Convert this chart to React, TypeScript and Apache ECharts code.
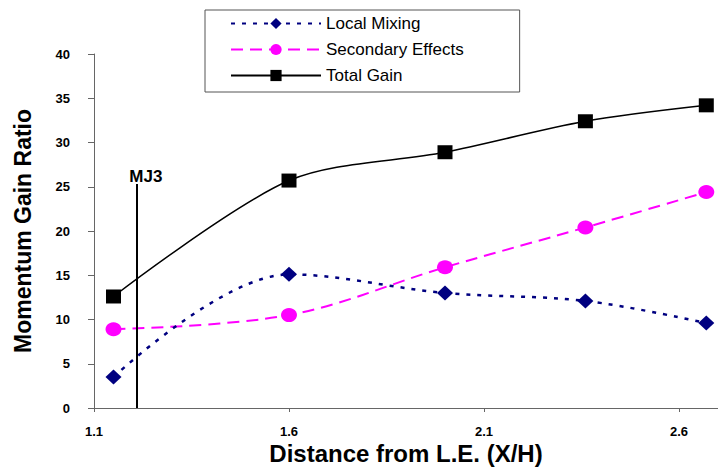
import React, { useEffect, useRef } from "react";
import * as echarts from "echarts";

const xPositions = [1.15, 1.6, 2.0, 2.36, 2.67];
const localMixing = [3.5, 15.1, 13.0, 12.1, 9.6];
const secondaryEffects = [8.9, 10.5, 15.9, 20.4, 24.4];
const totalGain = [12.6, 25.7, 28.9, 32.4, 34.2];
const xTickValues = [1.1, 1.6, 2.1, 2.6];
const mj3X = 1.21;
const mj3Top = 25.3;

const FONT = "'Liberation Sans', Arial, sans-serif";

const pairs = (ys: number[]) => ys.map((y, i) => [xPositions[i], y]);

export default function App() {
  const ref = useRef<HTMLDivElement>(null);
  useEffect(() => {
    if (!ref.current) return;
    const chart = echarts.init(ref.current, undefined, { renderer: "svg" });
    chart.setOption({
      animation: false,
      backgroundColor: "#ffffff",
      textStyle: { fontFamily: FONT },
      grid: {
        left: 94,
        right: 0,
        top: 54,
        bottom: 60,
        containLabel: false,
        outerBoundsMode: "none",
      },
      legend: {
        orient: "vertical",
        left: 205,
        top: 10,
        itemWidth: 90,
        itemHeight: 14,
        itemGap: 9,
        padding: [5, 56, 8, 25],
        borderColor: "#555",
        borderWidth: 1,
        backgroundColor: "#fff",
        textStyle: { fontSize: 17, color: "#000", fontFamily: FONT },
        data: ["Local Mixing", "Secondary Effects", "Total Gain"],
      },
      xAxis: {
        type: "value",
        min: 1.1,
        max: 2.7,
        name: "Distance from L.E. (X/H)",
        nameLocation: "middle",
        nameGap: 33,
        nameMoveOverlap: false,
        nameTextStyle: { fontSize: 24, fontWeight: "bold", color: "#000", fontFamily: FONT },
        axisLine: { show: true, lineStyle: { color: "#666", width: 1 } },
        axisTick: { show: true, length: 4, customValues: xTickValues, lineStyle: { color: "#666" } },
        axisLabel: {
          customValues: xTickValues,
          margin: 16,
          fontSize: 13,
          lineHeight: 14,
          fontWeight: "bold",
          color: "#000",
          fontFamily: FONT,
          formatter: (v: number) => v.toFixed(1),
        },
        splitLine: { show: false },
      },
      yAxis: {
        type: "value",
        min: 0,
        max: 40,
        interval: 5,
        name: "Momentum Gain Ratio",
        nameLocation: "middle",
        nameGap: 60,
        nameMoveOverlap: false,
        nameTextStyle: { fontSize: 23, fontWeight: "bold", color: "#000", fontFamily: FONT },
        axisLine: { show: true, lineStyle: { color: "#666", width: 1 } },
        axisTick: { show: true, length: 6, lineStyle: { color: "#666" } },
        axisLabel: { margin: 24, fontSize: 13, fontWeight: "bold", color: "#000", fontFamily: FONT },
        splitLine: { show: false },
      },
      series: [
        {
          name: "Local Mixing",
          type: "line",
          data: pairs(localMixing),
          smooth: 0.35,
          symbol: "diamond",
          symbolSize: [16, 15],
          itemStyle: { color: "#000080" },
          lineStyle: { color: "#000080", width: 2.5, type: [4, 7] },
          z: 3,
          markLine: {
            silent: true,
            symbol: "none",
            lineStyle: { color: "#000", width: 2, type: "solid" },
            label: {
              show: true,
              position: "end",
              formatter: "MJ3",
              fontSize: 17,
              fontWeight: "bold",
              color: "#000",
              fontFamily: FONT,
              offset: [9, 6],
            },
            data: [[{ coord: [mj3X, 0] }, { coord: [mj3X, mj3Top] }]],
          },
        },
        {
          name: "Secondary Effects",
          type: "line",
          data: pairs(secondaryEffects),
          smooth: 0.35,
          symbol: "circle",
          symbolSize: [16, 14],
          itemStyle: { color: "#ff00ff" },
          lineStyle: { color: "#ff00ff", width: 2, type: [12, 7] },
          z: 2,
        },
        {
          name: "Total Gain",
          type: "line",
          data: pairs(totalGain),
          smooth: 0.3,
          symbol: "rect",
          symbolSize: [15, 14],
          itemStyle: { color: "#000" },
          lineStyle: { color: "#000", width: 1.5, type: "solid" },
          z: 4,
        },
      ],
    });
    return () => chart.dispose();
  }, []);
  return (
    <div
      ref={ref}
      style={{ position: "fixed", left: 0, top: 0, width: 718, height: 468, background: "#fff" }}
    />
  );
}
